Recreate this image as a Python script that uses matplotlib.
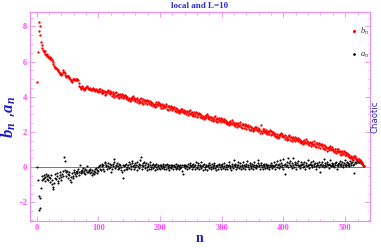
import numpy as np
import matplotlib
matplotlib.use("Agg")
import matplotlib.pyplot as plt
from matplotlib.ticker import MultipleLocator

plt.rcParams['mathtext.fontset'] = 'custom'
plt.rcParams['mathtext.it'] = 'Liberation Serif:italic'
plt.rcParams['mathtext.rm'] = 'Liberation Serif'
plt.rcParams['mathtext.bf'] = 'Liberation Serif:bold:italic'

b_values = [
    4.82, 6.56, 7.75, 8.26, 8.02, 7.52, 7.12, 6.92, 6.78, 6.64,
    6.62, 6.55, 6.58, 6.46, 6.40, 6.43, 6.33, 6.29, 6.31, 6.22,
    6.25, 6.14, 6.18, 6.08, 6.10, 5.98, 5.86, 5.74, 5.70, 5.66,
    5.62, 5.58, 5.61, 5.50, 5.47, 5.40, 5.36, 5.31, 5.28, 5.25,
    5.31, 5.42, 5.51, 5.44, 5.33, 5.22, 5.17, 5.12, 5.16, 5.19,
    5.21, 5.14, 5.08, 5.02, 4.96, 4.88, 4.84, 4.93, 5.00, 5.04,
    5.02, 4.96, 4.99, 4.93, 4.98, 5.03, 4.95, 4.80, 4.64, 4.55,
    4.50, 4.47, 4.55, 4.60, 4.52, 4.46, 4.40, 4.44, 4.50, 4.58,
    4.62, 4.55, 4.49, 4.43, 4.46, 4.52, 4.47, 4.41, 4.38, 4.44,
    4.49, 4.45, 4.40, 4.36, 4.39, 4.43, 4.38, 4.33, 4.30, 4.35,
    4.43, 4.35, 4.47, 4.28, 4.41, 4.23, 4.36, 4.19, 4.31, 4.25,
    4.12, 4.29, 4.18, 4.36, 4.26, 4.39, 4.20, 4.31, 4.14, 4.25,
    4.20, 4.05, 4.25, 4.15, 4.01, 4.11, 4.23, 4.07, 4.27, 4.13,
    4.00, 4.18, 3.94, 4.09, 4.15, 3.97, 4.07, 4.17, 3.91, 4.11,
    4.06, 3.98, 4.10, 3.91, 4.04, 3.86, 3.99, 3.82, 3.94, 3.88,
    3.76, 3.93, 3.82, 4.00, 3.90, 4.03, 3.84, 3.95, 3.78, 3.89,
    3.86, 3.71, 3.91, 3.81, 3.67, 3.77, 3.89, 3.73, 3.93, 3.79,
    3.67, 3.85, 3.61, 3.76, 3.82, 3.64, 3.74, 3.84, 3.58, 3.78,
    3.74, 3.66, 3.78, 3.59, 3.72, 3.54, 3.67, 3.50, 3.62, 3.56,
    3.44, 3.61, 3.50, 3.68, 3.58, 3.71, 3.52, 3.63, 3.46, 3.57,
    3.53, 3.38, 3.58, 3.48, 3.34, 3.44, 3.56, 3.40, 3.60, 3.46,
    3.32, 3.50, 3.26, 3.41, 3.47, 3.29, 3.39, 3.49, 3.23, 3.43,
    3.37, 3.29, 3.41, 3.22, 3.35, 3.17, 3.30, 3.13, 3.25, 3.19,
    3.06, 3.23, 3.12, 3.30, 3.20, 3.33, 3.14, 3.25, 3.08, 3.19,
    3.16, 3.01, 3.21, 3.11, 2.97, 3.07, 3.19, 3.03, 3.23, 3.09,
    2.96, 3.14, 2.90, 3.05, 3.11, 2.93, 3.03, 3.13, 2.87, 3.07,
    3.03, 2.95, 3.07, 2.88, 3.01, 2.83, 2.96, 2.79, 2.91, 2.85,
    2.73, 2.90, 2.79, 2.97, 2.87, 3.00, 2.81, 2.92, 2.75, 2.86,
    2.83, 2.68, 2.88, 2.78, 2.64, 2.74, 2.86, 2.70, 2.90, 2.76,
    2.64, 2.82, 2.58, 2.73, 2.79, 2.61, 2.71, 2.81, 2.55, 2.75,
    2.70, 2.62, 2.74, 2.55, 2.68, 2.50, 2.63, 2.46, 2.58, 2.52,
    2.39, 2.56, 2.45, 2.63, 2.53, 2.66, 2.47, 2.58, 2.41, 2.52,
    2.48, 2.33, 2.53, 2.43, 2.29, 2.39, 2.51, 2.35, 2.55, 2.41,
    2.28, 2.46, 2.22, 2.37, 2.43, 2.25, 2.35, 2.45, 2.19, 2.39,
    2.34, 2.26, 2.38, 2.19, 2.32, 2.14, 2.27, 2.10, 2.22, 2.16,
    2.03, 2.20, 2.09, 2.27, 2.17, 2.30, 2.11, 2.22, 2.05, 2.16,
    2.12, 1.97, 2.42, 2.07, 1.93, 2.03, 2.15, 1.99, 2.19, 2.05,
    1.92, 2.10, 1.86, 2.01, 2.07, 1.89, 1.99, 2.09, 1.83, 2.03,
    1.98, 1.90, 2.02, 1.83, 1.96, 1.78, 1.91, 1.74, 1.86, 1.80,
    1.67, 1.84, 1.73, 1.91, 1.81, 1.94, 1.75, 1.86, 1.69, 1.80,
    1.76, 1.61, 1.81, 1.71, 1.57, 1.67, 1.79, 1.63, 1.83, 1.69,
    1.56, 1.74, 1.50, 1.65, 1.71, 1.53, 1.63, 1.73, 1.47, 1.67,
    1.62, 1.54, 1.66, 1.47, 1.60, 1.42, 1.55, 1.38, 1.50, 1.44,
    1.31, 1.48, 1.37, 1.55, 1.45, 1.58, 1.39, 1.50, 1.33, 1.44,
    1.40, 1.25, 1.45, 1.35, 1.21, 1.31, 1.43, 1.27, 1.47, 1.33,
    1.20, 1.38, 1.14, 1.29, 1.35, 1.17, 1.27, 1.37, 1.11, 1.31,
    1.26, 1.18, 1.30, 1.11, 1.24, 1.06, 1.19, 1.02, 1.14, 1.08,
    0.93, 1.10, 0.99, 1.17, 1.07, 1.20, 1.01, 1.12, 0.95, 1.06,
    0.99, 0.84, 1.04, 0.94, 0.80, 0.90, 1.02, 0.86, 1.06, 0.92,
    0.76, 0.94, 0.70, 0.85, 0.91, 0.73, 0.83, 0.93, 0.67, 0.87,
    0.78, 0.70, 0.82, 0.63, 0.76, 0.58, 0.71, 0.54, 0.66, 0.60,
    0.45, 0.58, 0.50, 0.63, 0.55, 0.62, 0.48, 0.54, 0.42, 0.47,
    0.40, 0.45, 0.34, 0.38, 0.30, 0.33, 0.24, 0.26, 0.15, 0.06,
]

a_values = [
    0.00, -0.72, -2.43, -1.63, -2.30, -1.73, -1.16, -0.75, -0.52, -0.68,
    -0.45, -0.61, -0.80, -0.55, -0.38, -0.66, -0.49, -0.72, -0.42, -0.58,
    -0.85, -0.63, -0.47, -0.74, -0.95, -1.10, -1.23, -0.88, -0.60, -0.41,
    -0.70, -0.52, -0.35, -0.81, -0.90, -0.62, -0.45, -0.28, -0.55, -0.73,
    -0.40, -0.22, -0.48, 0.55, 0.36, -0.15, -0.30, -0.52, -0.20, -0.38,
    -0.60, -0.27, -0.45, -0.71, -0.82, -0.55, -0.33, -0.48, -0.62, -0.25,
    -0.18, -0.40, -0.30, -0.52, -0.22, -0.35, -0.10, -0.44, -0.28, 0.12,
    -0.20, -0.36, -0.15, -0.28, -0.05, -0.32, -0.21, -0.12, -0.40, -0.18,
    -0.25, 0.05, -0.30, -0.14, -0.22, -0.35, -0.08, -0.27, -0.45, -0.16,
    -0.31, -0.20, -0.38, -0.12, -0.26, -0.05, -0.33, -0.18, 0.02, -0.22,
    0.08, -0.10, 0.12, -0.15, 0.05, 0.18, -0.08, 0.10, -0.20, 0.22,
    0.30, 0.05, 0.15, -0.12, 0.25, 0.08, -0.05, 0.18, 0.02, -0.25,
    0.10, -0.08, 0.20, 0.06, 0.48, 0.32, -0.02, 0.15, 0.05, 0.22,
    -0.10, 0.08, 0.18, -0.05, 0.12, 0.02, -0.18, -0.30, 0.10, -0.62,
    0.05, -0.15, 0.12, -0.08, 0.20, 0.03, -0.12, 0.15, 0.30, -0.05,
    0.18, 0.08, -0.10, 0.22, 0.35, 0.05, -0.08, 0.15, 0.25, 0.02,
    0.12, -0.15, 0.28, 0.05, 0.18, -0.05, 0.10, 0.38, 0.55, 0.15,
    -0.10, 0.22, 0.08, 0.32, -0.05, 0.12, 0.25, 0.02, -0.15, 0.18,
    0.05, -0.08, 0.15, 0.28, 0.02, -0.12, 0.10, 0.20, -0.05, 0.08,
    -0.15, 0.12, 0.02, 0.18, -0.08, 0.05, 0.15, -0.02, 0.10, -0.10,
    0.05, 0.15, -0.05, 0.08, 0.20, -0.12, 0.02, 0.12, -0.08, 0.10,
    0.18, -0.02, 0.06, -0.15, 0.10, 0.02, 0.14, -0.06, 0.08, 0.15,
    -0.10, 0.05, 0.12, 0.00, -0.08, 0.18, 0.06, -0.04, 0.10, -0.12,
    0.08, 0.15, -0.05, 0.02, 0.12, -0.20, -0.38, 0.05, 0.10, -0.02,
    0.14, 0.06, -0.10, 0.08, 0.20, 0.02, -0.06, 0.12, 0.25, 0.05,
    -0.12, 0.10, 0.18, 0.00, 0.08, -0.08, 0.15, 0.28, 0.02, -0.05,
    0.12, 0.22, -0.10, 0.05, 0.15, 0.30, -0.02, 0.08, -0.15, 0.10,
    0.20, 0.02, -0.08, 0.12, 0.05, -0.18, 0.15, 0.08, -0.05, 0.22,
    0.10, -0.12, 0.02, 0.18, 0.06, -0.06, 0.12, 0.25, -0.02, 0.08,
    -0.15, 0.05, 0.15, -0.08, 0.10, 0.20, 0.02, -0.10, 0.12, 0.05,
    0.18, -0.05, 0.08, 0.25, -0.12, 0.10, 0.02, 0.15, -0.08, 0.06,
    0.12, 0.30, -0.02, 0.08, -0.15, 0.18, 0.05, -0.06, 0.12, 0.42,
    0.05, 0.20, -0.10, 0.10, 0.02, 0.15, 0.32, -0.05, 0.08, 0.22,
    -0.08, 0.12, 0.05, 0.28, -0.02, 0.15, 0.08, -0.12, 0.20, 0.05,
    0.35, 0.02, 0.15, -0.08, 0.10, 0.25, 0.05, -0.05, 0.18, 0.08,
    -0.10, 0.12, 0.30, 0.02, 0.15, -0.06, 0.08, 0.22, 0.40, 0.05,
    0.15, -0.08, 0.10, 0.25, 0.02, 0.12, -0.12, 0.18, 0.06, -0.02,
    0.10, 0.20, -0.05, 0.08, 0.15, 0.02, -0.10, 0.12, 0.05, 0.22,
    -0.02, 0.15, 0.08, 0.30, 0.05, -0.08, 0.12, 0.20, 0.02, 0.35,
    0.10, -0.05, 0.18, 0.42, 0.08, 0.25, 0.02, 0.15, -0.10, 0.45,
    0.12, -0.40, 0.20, 0.05, 0.30, 0.15, 0.52, 0.02, 0.22, 0.10,
    0.35, 0.08, -0.05, 0.25, 0.15, 0.50, 0.02, 0.18, 0.30, 0.10,
    -0.08, 0.22, 0.12, 0.35, 0.05, 0.15, -0.02, 0.28, 0.10, 0.20,
    0.02, 0.18, 0.30, 0.08, -0.10, 0.15, 0.25, 0.05, 0.12, 0.38,
    0.10, -0.05, 0.20, 0.12, 0.28, 0.02, 0.15, 0.35, 0.08, 0.18,
    0.25, 0.05, -0.08, 0.15, 0.22, 0.10, 0.32, 0.02, -0.30, 0.12,
    0.20, 0.08, 0.28, 0.15, 0.02, 0.45, 0.12, 0.22, 0.05, 0.18,
    0.30, 0.10, -0.05, 0.20, 0.15, 0.38, 0.05, 0.12, 0.25, 0.08,
    0.18, 0.02, 0.22, 0.10, 0.30, 0.15, -0.08, 0.20, 0.08, 0.25,
    0.12, 0.35, 0.05, 0.18, 0.28, 0.10, 0.02, 0.22, 0.15, 0.40,
    0.08, 0.20, 0.30, 0.12, 0.25, 0.05, 0.18, 0.35, 0.10, 0.22,
    0.28, 0.15, 0.40, -0.35, 0.20, 0.30, 0.25, 0.45, 0.35, 0.30,
    0.38, 0.32, 0.28, 0.35, 0.30, 0.25, 0.22, 0.18, 0.12, 0.05,
]

n_values = np.arange(1, len(b_values) + 1)
x_ticks = [0, 100, 200, 300, 400, 500]
y_ticks = [-2, 0, 2, 4, 6, 8]

frame_col = '#ee88ee'
label_col = '#ff44ff'
blue = '#2b2bdd'

fig = plt.figure(figsize=(3.81, 2.48), dpi=100)
ax = fig.add_axes([0.0787, 0.109, 0.892, 0.843])
xmin, xmax = -11, 540
ax.set_xlim(xmin, xmax)
ax.set_ylim(-3.06, 8.83)

ax.axhline(0, xmin=0, xmax=(n_values[-1] - xmin) / (xmax - xmin),
           color='#777777', lw=0.7, zorder=1)
hb, = ax.plot(n_values, b_values, 'o', ms=1.7, color='red', mec='none', zorder=3)
ha, = ax.plot(n_values, a_values, 'o', ms=1.5, color='black', mec='none', zorder=2)

for s in ax.spines.values():
    s.set_color(frame_col)
    s.set_linewidth(0.8)

ax.set_xticks(x_ticks)
ax.set_yticks(y_ticks)
ax.xaxis.set_minor_locator(MultipleLocator(20))
ax.yaxis.set_minor_locator(MultipleLocator(0.5))
ax.tick_params(which='both', direction='in', top=True, right=True, color=frame_col,
               labelcolor=label_col, labelsize=6)
ax.tick_params(which='major', length=3.5, width=0.6, pad=2)
ax.tick_params(which='minor', length=1.8, width=0.5)
for lab in ax.get_xticklabels() + ax.get_yticklabels():
    lab.set_family('Liberation Serif')
    lab.set_fontweight('bold')

ax.set_title('local and L=10', fontsize=6.5, color=blue, fontweight='bold',
             family='Liberation Serif', pad=3)
ax.set_ylabel(r'$\mathbf{b_n}$ ,$\mathbf{a_n}$', fontsize=12, color='#1a1acc', labelpad=0)
ax.set_xlabel('n', fontsize=10, color='#1a1acc', fontweight='bold',
              family='Liberation Serif', labelpad=0)
ax.text(1.003, 0.5, 'Chaotic', transform=ax.transAxes, rotation=90, fontsize=6.2,
        color=blue, ha='left', va='center')

leg = ax.legend([hb, ha], [r'$b_n$', r'$a_n$'], loc='upper right',
                bbox_to_anchor=(1.02, 0.97), frameon=False, fontsize=6,
                handlelength=0.6, handletextpad=0.4, labelspacing=1.6,
                markerscale=1.3)
for t in leg.get_texts():
    t.set_color('#333333')

fig.savefig('out.png', dpi=100)
